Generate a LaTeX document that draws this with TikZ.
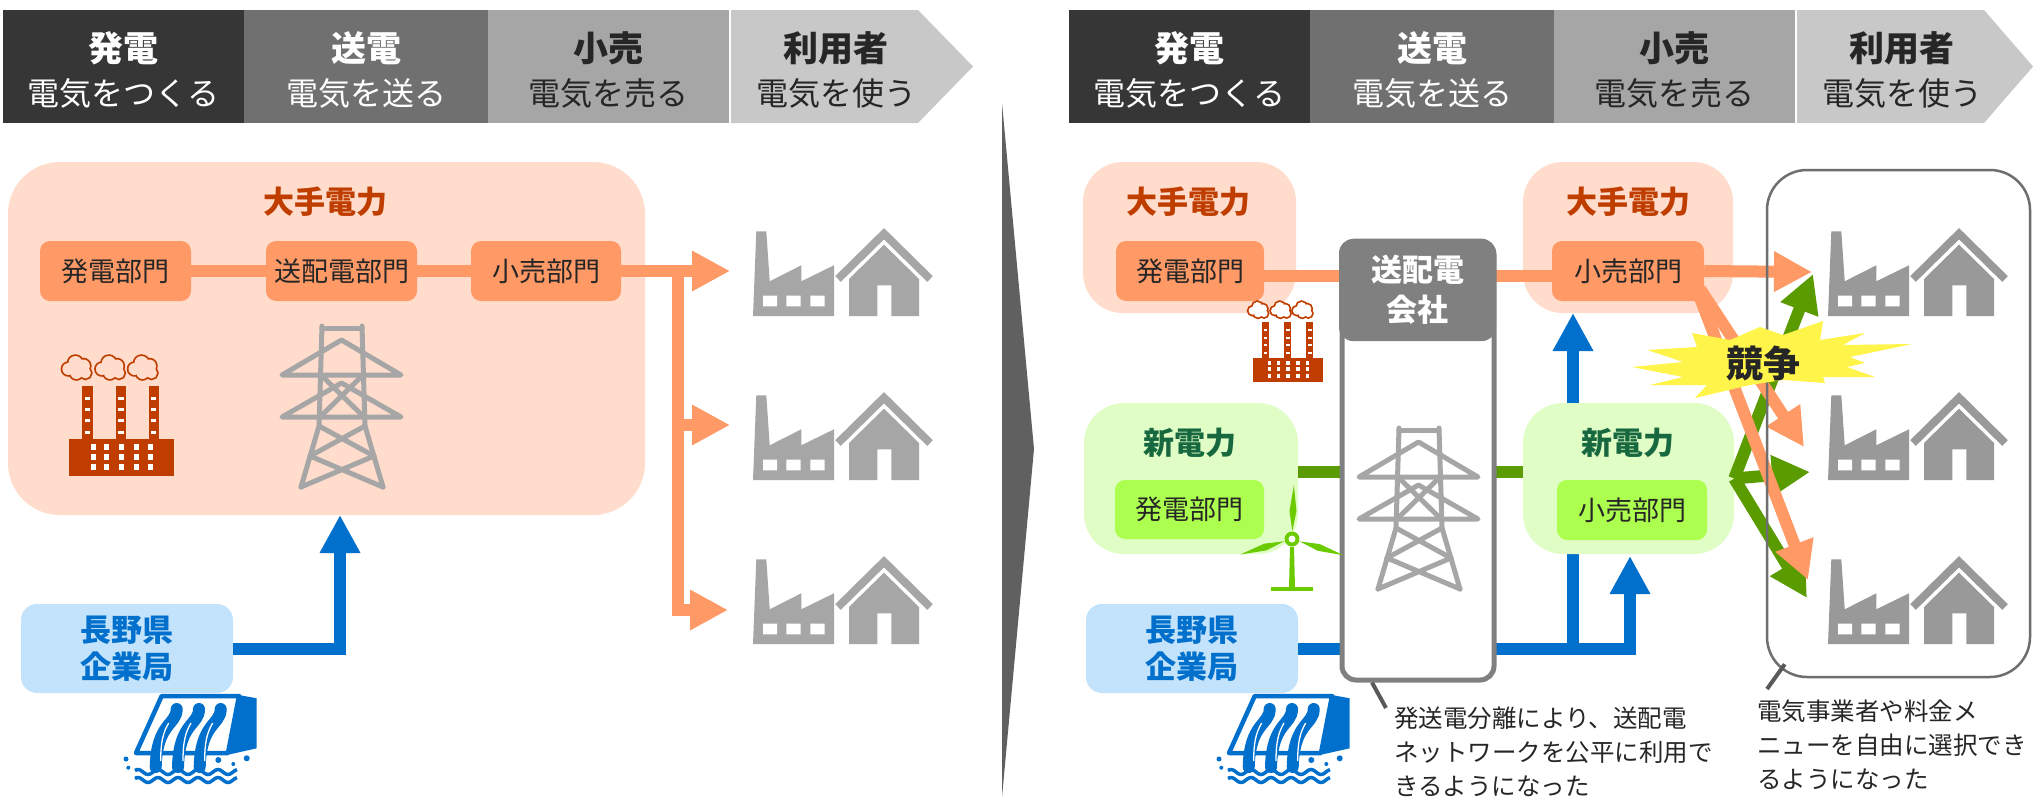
\documentclass[tikz,border=0pt]{standalone}
\usepackage{fontspec}
\setmainfont{Noto Sans CJK JP}
\usetikzlibrary{positioning, calc, arrows.meta}

\definecolor{hdA}{HTML}{363636}
\definecolor{hdB}{HTML}{707070}
\definecolor{hdC}{HTML}{A6A6A6}
\definecolor{hdD}{HTML}{C8C8C8}
\definecolor{txtDark}{HTML}{262626}
\definecolor{peach}{HTML}{FFDCCB}
\definecolor{deptOrange}{HTML}{FF9966}
\definecolor{brick}{HTML}{C03D00}
\definecolor{mintBg}{HTML}{E0FDC6}
\definecolor{lime}{HTML}{ADFF4F}
\definecolor{lineGreen}{HTML}{5A9C00}
\definecolor{darkGreen}{HTML}{17683F}
\definecolor{windGreen}{HTML}{6BCB00}
\definecolor{powerBlue}{HTML}{0070CC}
\definecolor{skyBlue}{HTML}{C3E3FC}
\definecolor{iconA}{HTML}{A6A6A6}
\definecolor{iconB}{HTML}{999999}
\definecolor{towerGray}{HTML}{A6A6A6}
\definecolor{tdGray}{HTML}{808080}
\definecolor{frameGray}{HTML}{6E6E6E}
\definecolor{noteGray}{HTML}{595959}
\definecolor{sepGray}{HTML}{606060}
\definecolor{starYellow}{HTML}{FFF44A}

\tikzset{
  % factory + house, origin at top left
  pics/consumer/.style={code={
    \fill[#1] (0,88) -- (3.3,3.3) -- (13.3,3.3) -- (16.7,53.3) -- (48.3,37.3) -- (48.3,53.3)
      -- (81,37.3) -- (81,88) -- cycle;
    \fill[white] (10,67.7) rectangle (24,78.3) (33.3,67.7) rectangle (47.7,78.3)
      (57.3,67.7) rectangle (71.7,78.3);
    \fill[#1] (96,88) -- (96,51) -- (131,16.7) -- (166,51) -- (166,88) -- (138.3,88)
      -- (138.3,57.3) -- (124.3,57.3) -- (124.3,88) -- cycle;
    \draw[#1, line width=8pt] (85,51) -- (131,5.7) -- (177,51);
  }},
  % thermal plant with smoke
  pics/plant/.style={code={
    \foreach \cx in {13.4,46.9,79.5} {
      \draw[brick, line width=3.5pt] (\cx-14,13) circle[radius=6pt] (\cx-7,7) circle[radius=7pt]
        (\cx+1,10) circle[radius=6.5pt] (\cx+3,17) circle[radius=5.5pt] (\cx-6,17) circle[radius=6pt];
      \fill[#1] (\cx-14,13) circle[radius=6pt] (\cx-7,7) circle[radius=7pt]
        (\cx+1,10) circle[radius=6.5pt] (\cx+3,17) circle[radius=5.5pt] (\cx-6,17) circle[radius=6pt];
      \fill[brick] (\cx,30) rectangle ++(10.3,53.3);
      \foreach \cy in {40.7,52,63.3,74.6}
        \fill[white] (\cx+2.5,\cy) rectangle ++(5.3,3);
    }
    \fill[brick] (0,83.3) rectangle (105,119.7);
    \foreach \wx in {24.6,37.9,52.2,67,81.7}
      \foreach \wy in {90.7,100.7,110.7}
        \fill[white] (\wx-2.5,\wy-3) rectangle ++(5,6);
  }},
  % lattice tower
  pics/pylon/.style={code={
    \begin{scope}[color=#1, line width=5pt, line join=round, line cap=round]
      \draw (40,2) -- (80,2);
      \draw (40,0) -- (37,100) -- (19,161);
      \draw (80,0) -- (83,100) -- (101,161);
      \draw (0,49) -- (59.5,14) -- (119,49) -- cycle;
      \draw (0,91) -- (59.5,57) -- (119,91) -- cycle;
      \draw (39,49) -- (82,91) (81,49) -- (38,91);
      \draw (37,100) -- (92,130) (83,100) -- (28,130);
      \draw (28,130) -- (101,161) (92,130) -- (19,161);
    \end{scope}
  }},
  % hydro dam
  pics/dam/.style={code={
    \fill[#1] (116,2) -- (133.7,5.3) -- (133.7,55.3) -- (106,61.5) -- cycle;
    \draw[#1, line width=4.5pt, line join=round, fill=white] (38.7,3) -- (116,3) -- (105,60) -- (13,60) -- cycle;
    \foreach \sx in {53.7,76,97.7} {
      \draw[#1, line width=12pt, line cap=round] (\sx,16) .. controls (\sx,32) and (\sx-20,30) .. (\sx-21,74);
      \draw[white, line width=1.3pt] (\sx-8,30) .. controls (\sx-14,40) and (\sx-16,50) .. (\sx-16,68);
    }
    \foreach \ux/\uy/\ur in {3/66/2.5, 5.3/74.7/2, 95.3/67/3, 110.3/71/2, 123.7/65.3/3}
      \fill[#1] (\ux,\uy) circle[radius=\ur pt];
    \foreach \wy in {79,87}
      \draw[#1, line width=3.5pt] plot[domain=12:114, samples=60, smooth] (\x,{\wy+2.5*sin(18*\x)});
  }},
  % wind turbine, origin at the hub
  pics/windmill/.style={code={
    \fill[#1] (-2,8) -- (2,8) -- (3,49) -- (-3,49) -- cycle;
    \fill[#1] (-21,47.5) rectangle (21,51.5);
    \foreach \a in {-2,106.7,252.5}
      \fill[#1, rotate=\a] (0,-8) -- (3.5,-28) -- (0,-54) -- (-3.5,-28) -- cycle;
    \fill[#1] (0,0) circle[radius=7.5pt];
    \fill[white] (0,0) circle[radius=3.5pt];
  }},
}

\begin{document}
\begin{tikzpicture}[x=1pt, y=-1pt]
  \tikzstyle{dept}=[rounded corners=10pt, minimum height=60pt, inner sep=0pt, text=txtDark, font=\fontsize{27}{32}\selectfont]
  \tikzstyle{panel}=[rounded corners=40pt, inner sep=0pt]
  \tikzstyle{ttl}=[font=\bfseries\fontsize{31}{36}\selectfont]
  \tikzstyle{htop}=[font=\bfseries\fontsize{35}{40}\selectfont]
  \tikzstyle{hsub}=[font=\fontsize{32}{36}\selectfont]
  \tikzstyle{kigyo}=[rounded corners=16pt, fill=skyBlue, minimum width=212pt, minimum height=89pt, inner sep=0pt, align=center, text=powerBlue, font=\bfseries\fontsize{31}{37}\selectfont]
  \tikzstyle{oline}=[draw=deptOrange, line width=12pt]
  \tikzstyle{gline}=[draw=lineGreen, line width=12pt]
  \tikzstyle{bline}=[draw=powerBlue, line width=12pt]
  \tikzstyle{bigtip}=[-{Triangle[length=38pt, width=38pt]}]
  \tikzstyle{note}=[anchor=north west, inner sep=0pt, align=left, text=txtDark, font=\fontsize{24.5}{34}\selectfont]
  \tikzstyle{callout}=[draw=noteGray, line width=4pt]

  \fill[white] (0,0) rectangle (2033,803);
  \useasboundingbox (0,0) rectangle (2033,803);

  % step strip on top of both halves
  \foreach \off/\tipx/\p in {0/973/L, 1066/2033/R} {
    \fill[hdA] (3+\off,10) rectangle (244+\off,123);
    \fill[hdB] (244+\off,10) rectangle (488+\off,123);
    \fill[hdC] (488+\off,10) rectangle (729+\off,123);
    \fill[hdD] (731+\off,10) -- (918+\off,10) -- (\tipx,66.5) -- (918+\off,123) -- (731+\off,123) -- cycle;
    \node[htop, text=white] (genHd\p) at (123.5+\off,48) {発電};
    \node[hsub, text=white] (genSub\p) at (123.5+\off,93) {電気をつくる};
    \node[htop, text=white] (trnHd\p) at (366+\off,48) {送電};
    \node[hsub, text=white] (trnSub\p) at (366+\off,93) {電気を送る};
    \node[htop, text=txtDark] (rtlHd\p) at (608.5+\off,48) {小売};
    \node[hsub, text=txtDark] (rtlSub\p) at (608.5+\off,93) {電気を売る};
    \node[htop, text=txtDark] (usrHd\p) at (836+\off,48) {利用者};
    \node[hsub, text=txtDark] (usrSub\p) at (836+\off,93) {電気を使う};
  }

  % left: integrated utility
  \node[panel, fill=peach, rounded corners=52pt, minimum width=637pt, minimum height=353pt] (bigL) at (326.5,338.5) {};
  \node[ttl, text=brick] (bigLt) at (325,202) {大手電力};
  \node[dept, fill=deptOrange, minimum width=151pt] (genL) at (115.5,271) {発電部門};
  \node[dept, fill=deptOrange, minimum width=151pt] (tdL) at (341.5,271) {送配電部門};
  \node[dept, fill=deptOrange, minimum width=150pt] (retL) at (546,271) {小売部門};
  \draw[oline] (genL) -- (tdL);
  \draw[oline] (tdL) -- (retL);

  \pic (plantL) at (69,356) {plant=peach};
  \pic (pylonL) at (282,326) {pylon=towerGray};

  \coordinate (busL) at (678,271);
  \coordinate (usrL1) at (730,271);
  \coordinate (usrL2) at (730,425);
  \coordinate (usrL3) at (728,610);
  \draw[oline, bigtip] (retL.east) -- (usrL1);
  \draw[oline, bigtip] (busL) |- (usrL3);
  \draw[oline, bigtip] (busL |- usrL2) -- (usrL2);
  \foreach \i/\y in {1/228,2/392,3/556}
    \pic (consL\i) at (753,\y) {consumer=iconA};

  \node[kigyo] (kigyoL) at (127,648.5) {長野県\\企業局};
  \coordinate (inL) at (340,515);
  \draw[bline, bigtip] (kigyoL.east) -| (inL);
  \pic (damL) at (123,693) {dam=powerBlue};

  % divider
  \fill[sepGray] (1002,103) -- (1034,449) -- (1002,797) -- cycle;

  % right: unbundled market
  \node[kigyo] (kigyoR) at (1192,648.5) {長野県\\企業局};
  \coordinate (tapR) at (1573,649);
  \coordinate (upR1) at (1573,313);
  \coordinate (upR2) at (1630,556);
  \draw[bline, bigtip] (kigyoR.east) -| (upR2);
  \draw[bline, bigtip] (tapR) -- (upR1);

  \node[panel, fill=peach, minimum width=213pt, minimum height=151pt] (bigR1) at (1189.5,237.5) {};
  \node[panel, fill=peach, minimum width=210pt, minimum height=151pt] (bigR2) at (1628,237.5) {};
  \node[panel, fill=mintBg, minimum width=214pt, minimum height=151pt] (shinL) at (1191,478.5) {};
  \node[panel, fill=mintBg, minimum width=211pt, minimum height=151pt] (shinR) at (1628.5,478.5) {};
  \node[ttl, text=brick] (bigR1t) at (1188,202) {大手電力};
  \node[ttl, text=brick] (bigR2t) at (1628,202) {大手電力};
  \node[ttl, text=darkGreen] (shinLt) at (1190,443) {新電力};
  \node[ttl, text=darkGreen] (shinRt) at (1628,443) {新電力};
  \node[dept, fill=deptOrange, minimum width=148pt] (genR) at (1190,271) {発電部門};
  \node[dept, fill=deptOrange, minimum width=152pt] (retR) at (1628,271) {小売部門};
  \node[dept, fill=lime, minimum width=149pt, minimum height=59pt] (genG) at (1189.5,509.5) {発電部門};
  \node[dept, fill=lime, minimum width=150pt] (retG) at (1632,510) {小売部門};

  \draw[oline] ([yshift=-5pt]genR.east) -- ([yshift=-5pt]retR.west);
  \draw[gline] ([yshift=7pt]shinL.east) -- ([yshift=7pt]shinR.west);

  % grid company
  \node[draw=tdGray, line width=5pt, fill=white, rounded corners=14pt, minimum width=152pt, minimum height=439pt, inner sep=0pt] (tdco) at (1418,460.5) {};
  \node[fill=tdGray, rounded corners=14pt, minimum width=157pt, minimum height=102pt, inner sep=0pt, align=center, text=white, font=\bfseries\fontsize{31}{40}\selectfont] (tdHead) at (1417.5,290) {送配電\\会社};
  \pic (pylonR) at (1359,428) {pylon=towerGray};
  \pic (windR) at (1292,539) {windmill=windGreen};
  \pic[scale=0.67] (plantR) at (1253,302) {plant=white};
  \pic (damR) at (1216,693) {dam=powerBlue};

  % customers free to choose
  \foreach \i/\y in {1/228,2/392,3/556}
    \pic (consR\i) at (1828,\y) {consumer=iconB};
  \coordinate (newR1) at (1813,274);
  \coordinate (newR2) at (1810,472);
  \coordinate (newR3) at (1807,598);
  \coordinate (usrR1) at (1812,272);
  \coordinate (usrR2) at (1804,447);
  \coordinate (usrR3) at (1808,580);
  \draw[gline, bigtip] (shinR.east) -- (newR1);
  \draw[gline, bigtip] (shinR.east) -- (newR2);
  \draw[gline, bigtip] (shinR.east) -- (newR3);
  \draw[oline, bigtip] (retR.east) -- (usrR1);
  \draw[oline, bigtip] ($(retR.south east)+(-4,-12)$) -- (usrR2);
  \draw[oline, bigtip] ($(retR.south east)+(-6,-8)$) -- (usrR3);
  \node[draw=frameGray, line width=2.5pt, rounded corners=40pt, minimum width=263pt, minimum height=507pt, inner sep=0pt] (users) at (1898.5,423.5) {};

  % competition burst
  \fill[starYellow] (1632,367) -- (1683,362) -- (1647,350) -- (1697,347) -- (1692,333) -- (1730,340)
    -- (1760,327) -- (1783,335) -- (1823,321) -- (1820,340) -- (1865,333) -- (1843,345) -- (1912,344)
    -- (1850,357) -- (1865,363) -- (1847,367) -- (1875,377) -- (1823,377) -- (1825,383) -- (1783,380)
    -- (1750,385) -- (1695,398) -- (1707,385) -- (1650,385) -- (1683,377) -- cycle;
  \node[font=\bfseries\fontsize{37}{40}\selectfont, text=txtDark] (compete) at (1763,363) {競争};

  % notes
  \coordinate (tdTail) at (1386,708);
  \coordinate (usTail) at (1767,689);
  \draw[callout] ([xshift=-46pt]tdco.south) -- (tdTail);
  \draw[callout] ([shift={(19,-14)}]users.south west) -- (usTail);
  \node[note] (noteTd) at (1394,707) {発送電分離により、送配電\\ネットワークを公平に利用で\\きるようになった};
  \node[note] (noteUs) at (1757,700) {電気事業者や料金メ\\ニューを自由に選択でき\\るようになった};
\end{tikzpicture}
\end{document}
